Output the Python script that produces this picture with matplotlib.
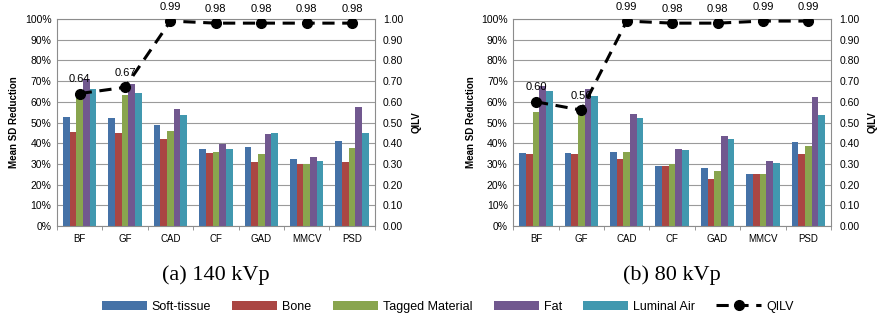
import matplotlib.pyplot as plt
import numpy as np
from matplotlib.ticker import FixedLocator

plt.rcParams['font.family'] = ['Liberation Sans', 'DejaVu Sans']

categories = ['BF', 'GF', 'CAD', 'CF', 'GAD', 'MMCV', 'PSD']
materials = ['Soft-tissue', 'Bone', 'Tagged Material', 'Fat', 'Luminal Air']
colors = ['#4572A7', '#AA4643', '#89A54E', '#71588F', '#4198AF']

# mean SD reduction (%) at 140 kVp, one list per material
soft_140 = [52.7, 52.0, 48.9, 37.4, 38.4, 32.2, 41.3]
bone_140 = [45.5, 44.9, 42.1, 35.5, 30.8, 30.0, 30.8]
tag_140 = [63.0, 63.5, 46.0, 36.0, 34.6, 30.1, 37.8]
fat_140 = [71.0, 68.8, 56.6, 39.4, 44.5, 33.3, 57.6]
air_140 = [66.0, 64.3, 53.7, 37.4, 45.0, 31.2, 45.0]
qilv_140 = [0.64, 0.67, 0.99, 0.98, 0.98, 0.98, 0.98]

# mean SD reduction (%) at 80 kVp
soft_80 = [35.4, 35.4, 36.0, 28.9, 28.0, 25.0, 40.7]
bone_80 = [34.6, 35.0, 32.3, 28.9, 22.7, 25.0, 34.6]
tag_80 = [55.0, 53.4, 36.0, 30.2, 26.5, 25.0, 38.9]
fat_80 = [67.8, 66.0, 54.0, 37.3, 43.4, 31.2, 62.5]
air_80 = [65.0, 63.0, 52.0, 36.8, 42.1, 30.4, 53.7]
qilv_80 = [0.60, 0.56, 0.99, 0.98, 0.98, 0.99, 0.99]

panels = [
    ('(a) 140 kVp', [soft_140, bone_140, tag_140, fat_140, air_140], qilv_140),
    ('(b) 80 kVp', [soft_80, bone_80, tag_80, fat_80, air_80], qilv_80),
]

fig = plt.figure(figsize=(8.85, 3.22), dpi=100)
lefts = [0.0644, 0.580]
axw = 0.359
x = np.arange(len(categories))
bw = 0.147

for k, (title, series, qilv) in enumerate(panels):
    ax = fig.add_axes([lefts[k], 0.298, axw, 0.643])
    for i, vals in enumerate(series):
        ax.bar(x + (i - 2) * bw, vals, bw, color=colors[i], label=materials[i], zorder=2)
    ax.set_xlim(-0.5, len(categories) - 0.5)
    ax.set_ylim(0, 100)
    ax.set_yticks(np.arange(0, 101, 10))
    ax.set_yticklabels(['%d%%' % v for v in range(0, 101, 10)], fontsize=7.5)
    ax.set_xticks(x)
    ax.set_xticklabels(categories, fontsize=7)
    ax.xaxis.set_minor_locator(FixedLocator(np.arange(-0.5, len(categories), 1)))
    ax.tick_params(axis='x', which='major', length=0, pad=6)
    ax.tick_params(axis='x', which='minor', length=3, color='#888888')
    ax.tick_params(axis='y', length=0, pad=4)
    ax.grid(axis='y', color='#9a9a9a', linewidth=0.8, zorder=0)
    ax.set_axisbelow(True)
    for s in ax.spines.values():
        s.set_color('#8c8c8c')
        s.set_linewidth(0.8)
    ax.set_ylabel('Mean SD Reduction', fontsize=7, fontweight='bold', labelpad=4)

    ax2 = ax.twinx()
    ax2.plot(x, qilv, color='black', linestyle='--', dashes=(4, 2.5), linewidth=2.2,
             marker='o', markersize=7, label='QILV', zorder=3)
    for xi, q in zip(x, qilv):
        ax2.text(xi, q + 0.045, '%.2f' % q, ha='center', va='bottom', fontsize=8, clip_on=False)
    ax2.set_ylim(0, 1.0)
    ax2.set_yticks(np.arange(0, 1.01, 0.1))
    ax2.set_yticklabels(['%.2f' % v for v in np.arange(0, 1.01, 0.1)], fontsize=7.5)
    ax2.tick_params(axis='y', length=0, pad=6)
    for s in ax2.spines.values():
        s.set_visible(False)
    ax2.set_ylabel('QILV', fontsize=7, fontweight='bold', labelpad=6)

    fig.text(lefts[k] + axw / 2, 0.130, title, ha='center', va='baseline',
             fontsize=16, family='Liberation Serif')

handles, labels = [], []
for a in fig.axes[:2]:
    h, l = a.get_legend_handles_labels()
    handles += h
    labels += l
fig.legend(handles, labels, loc='center', bbox_to_anchor=(0.506, 0.047), ncol=6,
           frameon=False, fontsize=9, handlelength=3.6, handleheight=0.8,
           columnspacing=1.7, handletextpad=0.4)

plt.savefig('out.png', dpi=100)
